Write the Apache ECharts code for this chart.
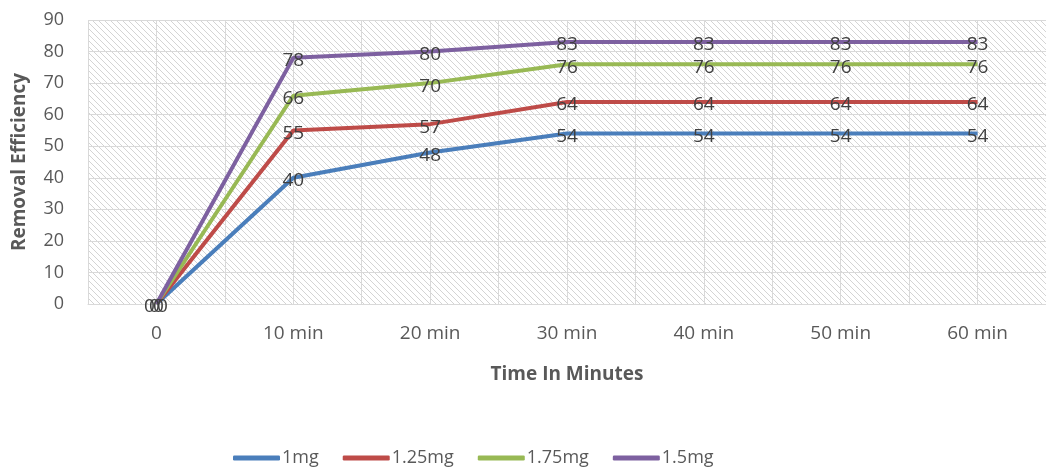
<!DOCTYPE html>
<html><head><meta charset="utf-8">
<script src="https://cdn.jsdelivr.net/npm/echarts@6/dist/echarts.min.js"></script>
<style>html,body{margin:0;padding:0;background:#fff}#c{width:1046px;height:468px}</style>
</head><body><div id="c"></div>
<script>
var categories = ['0','10 min','20 min','30 min','40 min','50 min','60 min'];
var s1mg   = [0,40,48,54,54,54,54];
var s125mg = [0,55,57,64,64,64,64];
var s175mg = [0,66,70,76,76,76,76];
var s15mg  = [0,78,80,83,83,83,83];
var seriesNames = ['1mg','1.25mg','1.75mg','1.5mg'];
var colors = ['#4a7ebb','#be4b48','#98b954','#7d60a0'];
var yTicks = [0,90,10];

var pc = document.createElement('canvas');
pc.width = 6; pc.height = 6;
var ctx = pc.getContext('2d');
ctx.fillStyle = '#fff'; ctx.fillRect(0,0,6,6);
ctx.strokeStyle = '#d4d4d4'; ctx.lineWidth = 1;
ctx.beginPath();
ctx.moveTo(-1,-1); ctx.lineTo(7,7);
ctx.moveTo(-1,5); ctx.lineTo(1,7);
ctx.moveTo(5,-1); ctx.lineTo(7,1);
ctx.stroke();

var font = 'Open Sans';
var chart = echarts.init(document.getElementById('c'));
var dataSets = [s1mg, s125mg, s175mg, s15mg];
var zeroOffsets = [-7,-2,2,6];
var series = dataSets.map(function(d,i){
  return {
    name: seriesNames[i], type:'line', data: d, xAxisIndex:0,
    symbol:'circle', symbolSize:1, showSymbol:true,
    lineStyle:{width:4, color:colors[i]}, itemStyle:{color:colors[i], opacity:0},
    label:{show:true, position:'inside', fontFamily:font, fontSize:19, color:'#404040', opacity:1},
    labelLayout:function(p){ return p.dataIndex===0 ? {dx: zeroOffsets[i], dy: 3} : {dy:3}; },
    emphasis:{disabled:true},
    z: 3
  };
});
chart.setOption({
  animation:false,
  color: colors,
  grid:{left:88, right:-10, top:20, bottom:164, show:true, backgroundColor:{image:pc, repeat:'repeat'}, borderWidth:0},
  legend:{bottom:-4, left:228, itemWidth:47, itemHeight:5, itemGap:24, icon:'roundRect',
    itemStyle:{opacity:1},
    textStyle:{fontFamily:font, fontSize:18, color:'#595959', padding:[0,0,0,-3]},
    data: seriesNames.map(function(n,i){return {name:n, itemStyle:{color:colors[i], opacity:1}};})},
  xAxis:[{type:'category', data:categories, boundaryGap:true,
    axisLine:{lineStyle:{color:'#d9d9d9', width:1}}, axisTick:{show:false},
    axisLabel:{fontFamily:font, fontSize:19, color:'#595959', margin:20},
    splitLine:{show:false},
    name:'Time In Minutes', nameLocation:'middle', nameGap:61,
    nameTextStyle:{fontFamily:font, fontSize:19, fontWeight:'bold', color:'#595959'}},
   {type:'category', data:['a','b','c','d','e','f','g','h','i','j','k','l','m','n'], position:'bottom', show:true,
    axisLine:{show:false}, axisTick:{show:false}, axisLabel:{show:false},
    splitLine:{show:true, interval:0, lineStyle:{color:'#d9d9d9', width:1}}}],
  yAxis:{type:'value', min:yTicks[0], max:yTicks[1], interval:yTicks[2],
    axisLine:{show:false}, axisTick:{show:false},
    axisLabel:{fontFamily:font, fontSize:18, color:'#595959', margin:24},
    splitLine:{lineStyle:{color:'#d9d9d9', width:1}},
    name:'Removal Efficiency', nameLocation:'middle', nameGap:59, nameRotate:90,
    nameTextStyle:{fontFamily:font, fontSize:19, fontWeight:'bold', color:'#595959'}},
  series: series
});
</script></body></html>
